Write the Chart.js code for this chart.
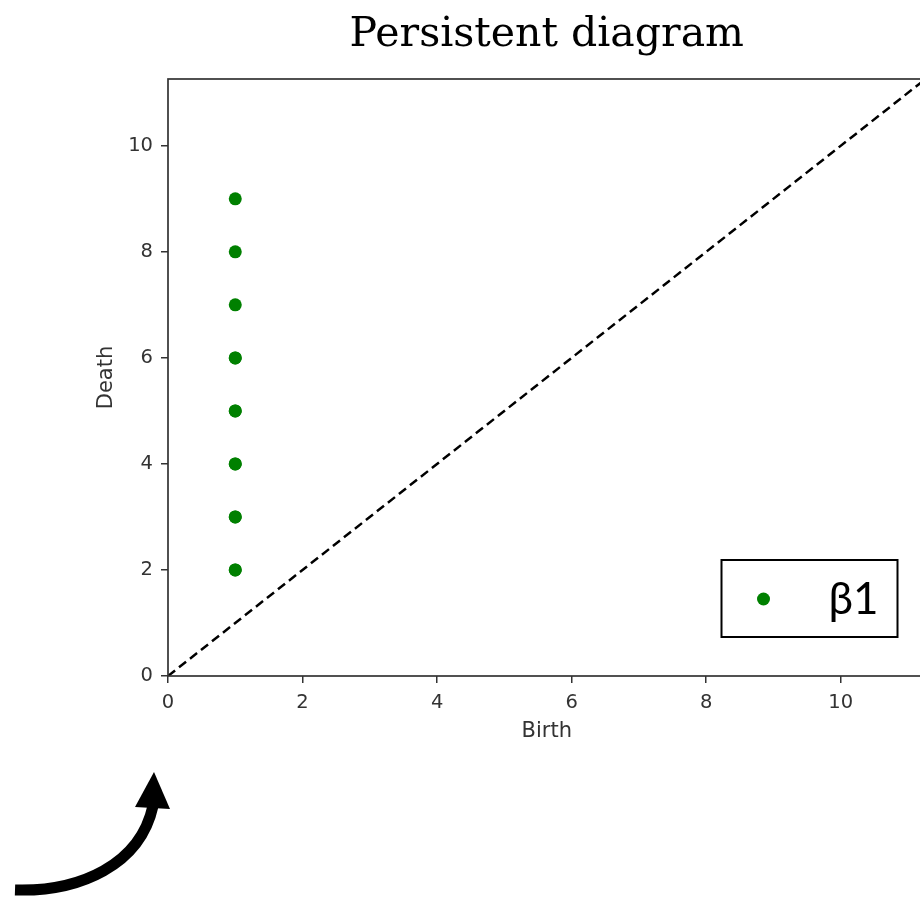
<!DOCTYPE html>
<html>
<head>
<meta charset="utf-8">
<script src="https://cdn.jsdelivr.net/npm/chart.js@4.4.1/dist/chart.umd.min.js"></script>
<style>
  html, body { margin: 0; padding: 0; background: #fff; overflow: hidden; }
  #wrap { width: 920px; height: 900px; overflow: hidden; }
</style>
</head>
<body>
<div id="wrap"><canvas id="chart" width="932" height="900"></canvas></div>
<script>
// persistence pairs (H1): birth / death
const births = [1, 1, 1, 1, 1, 1, 1, 1, 1, 1, 1, 1, 1];
const deaths = [2, 2, 3, 3, 4, 4, 5, 5, 6, 6, 7, 8, 9];
const seriesLabel = 'β1';
const axisMin = 0;
const axisMax = 11.26;
const diagonal = [axisMin, axisMax];
const tickStep = 2;
const titleText = 'Persistent diagram';
const xTitle = 'Birth';
const yTitle = 'Death';

const points = births.map((b, i) => ({ x: b, y: deaths[i] }));
const diagPoints = diagonal.map((v) => ({ x: v, y: v }));

const axisColor = '#333';
const tickFont = { family: 'DejaVu Sans', size: 19.5 };
const labelFont = { family: 'DejaVu Sans', size: 21 };

// frame around plot area + legend box + curved arrow
const decorations = {
  id: 'decorations',
  afterDraw(chart) {
    const { ctx, chartArea: a } = chart;
    ctx.save();
    ctx.strokeStyle = axisColor;
    ctx.lineWidth = 1.7;
    ctx.strokeRect(a.left, a.top, a.right - a.left, a.bottom - a.top);

    // legend
    const lx = a.right - 204, ly = a.bottom - 116, lw = 176, lh = 77;
    ctx.fillStyle = '#fff';
    ctx.fillRect(lx, ly, lw, lh);
    ctx.strokeStyle = '#000';
    ctx.lineWidth = 2;
    ctx.strokeRect(lx, ly, lw, lh);
    ctx.fillStyle = '#008000';
    ctx.beginPath();
    ctx.arc(lx + 42, ly + 39, 6.5, 0, Math.PI * 2);
    ctx.fill();
    ctx.fillStyle = '#000';
    ctx.font = '44px Lato';
    ctx.textBaseline = 'middle';
    ctx.textAlign = 'left';
    ctx.fillText(chart.data.datasets[0].label, lx + 107, ly + 40);

    // curved arrow bottom-left
    ctx.strokeStyle = '#000';
    ctx.lineWidth = 11;
    ctx.beginPath();
    ctx.moveTo(15, 890);
    ctx.bezierCurveTo(80, 892, 140, 865, 153, 806);
    ctx.stroke();
    ctx.fillStyle = '#000';
    ctx.beginPath();
    ctx.moveTo(154, 772);
    ctx.lineTo(170, 809);
    ctx.lineTo(135, 807);
    ctx.closePath();
    ctx.fill();
    ctx.restore();
  },
};

new Chart(document.getElementById('chart'), {
  type: 'scatter',
  data: {
    datasets: [
      {
        label: seriesLabel,
        data: points,
        pointRadius: 6.5,
        pointBackgroundColor: '#008000',
        pointBorderColor: '#008000',
        pointBorderWidth: 0,
      },
      {
        label: 'diagonal',
        data: diagPoints,
        showLine: true,
        borderColor: '#000',
        borderWidth: 2.5,
        borderDash: [9, 5],
        pointRadius: 0,
      },
    ],
  },
  options: {
    responsive: false,
    animation: false,
    devicePixelRatio: 1,
    layout: { padding: { left: 0, right: 3, top: 0, bottom: 155.6 } },
    plugins: {
      legend: { display: false },
      tooltip: { enabled: false },
      title: {
        display: true,
        text: titleText,
        fullSize: false,
        color: '#000',
        font: { family: 'DejaVu Serif', size: 41, weight: 'normal' },
        padding: { top: 11.2, bottom: 18.6 },
      },
    },
    scales: {
      x: {
        type: 'linear',
        min: axisMin,
        max: axisMax,
        afterFit: (s) => { s.height = 68.4; },
        border: { display: false },
        grid: { drawOnChartArea: false, drawTicks: true, tickLength: 7, color: axisColor, lineWidth: 1.5 },
        ticks: { stepSize: tickStep, includeBounds: false, color: axisColor, font: tickFont, padding: 8, maxRotation: 0 },
        title: { display: true, text: xTitle, color: axisColor, font: labelFont, padding: { top: 0, bottom: 0 } },
      },
      y: {
        type: 'linear',
        min: axisMin,
        max: axisMax,
        afterFit: (s) => { s.width = 168; },
        border: { display: false },
        grid: { drawOnChartArea: false, drawTicks: true, tickLength: 7, color: axisColor, lineWidth: 1.5 },
        ticks: { stepSize: tickStep, includeBounds: false, color: axisColor, font: tickFont, padding: 8 },
        title: { display: true, text: yTitle, color: axisColor, font: labelFont, padding: { top: 94, bottom: 0 } },
      },
    },
  },
  plugins: [decorations],
});
</script>
</body>
</html>
